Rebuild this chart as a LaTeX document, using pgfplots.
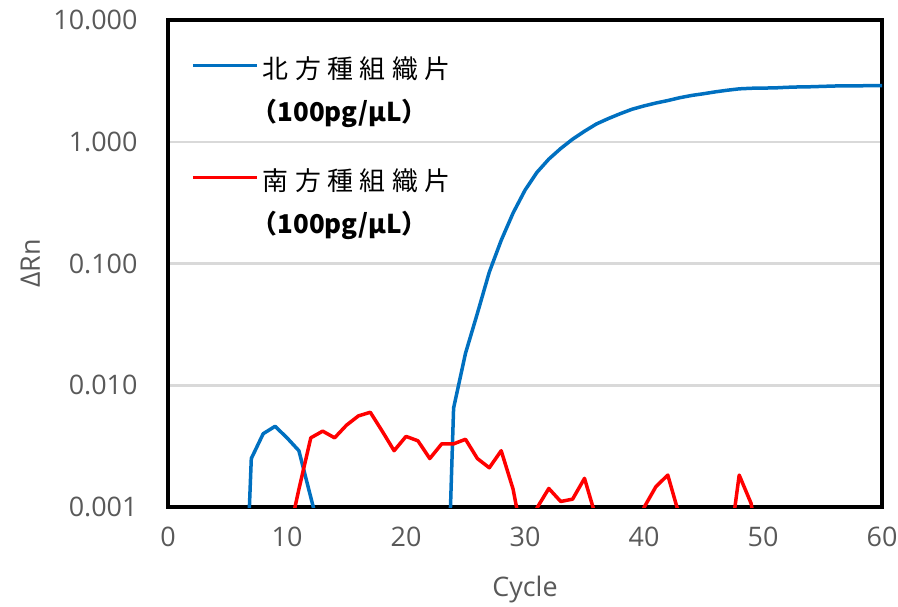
\documentclass[border=0pt]{standalone}
\usepackage{fontspec}
\setmainfont{Open Sans}
\newfontfamily\cjk{Noto Sans CJK JP}
\usepackage{pgfplots}
\pgfplotsset{compat=1.18}
\definecolor{ser1}{HTML}{0070C0}
\definecolor{ser2}{HTML}{FF0000}
\definecolor{gridgray}{HTML}{D9D9D9}
\definecolor{labelgray}{HTML}{595959}
\newcommand\jsp{\hspace{6.5bp}}
\pgfplotstableread{
c b r
1 1e-5 1e-4
2 1e-5 1e-4
3 1e-5 1e-4
4 1e-5 1e-4
5 1e-5 1e-4
6 8e-6 1e-4
7 0.0025 1e-4
8 0.0040 1e-4
9 0.0046 1e-4
10 0.0037 0.0005
11 0.0029 0.0014
12 0.0012 0.0037
13 0.0005 0.0042
14 1e-5 0.0037
15 1e-5 0.0047
16 1e-5 0.0056
17 1e-5 0.0060
18 1e-5 0.0042
19 1e-5 0.0029
20 1e-5 0.0038
21 1e-5 0.0035
22 1e-5 0.0025
23 5e-6 0.0033
24 0.0065 0.0033
25 0.0183 0.0036
26 0.039 0.0025
27 0.085 0.0021
28 0.155 0.0029
29 0.26 0.0014
30 0.40 0.00043
31 0.56 0.00098
32 0.72 0.00142
33 0.88 0.00111
34 1.05 0.00116
35 1.22 0.00172
36 1.40 0.0008
37 1.55 0.0005
38 1.70 0.0005
39 1.85 0.0005
40 1.97 0.00099
41 2.08 0.00147
42 2.18 0.00183
43 2.30 0.00083
44 2.40 0.0003
45 2.48 0.0003
46 2.57 0.0003
47 2.65 0.00034
48 2.72 0.00183
49 2.75 0.00107
50 2.76 0.0003
51 2.77 0.0003
52 2.80 0.0003
53 2.82 0.0003
54 2.83 0.0003
55 2.85 0.0003
56 2.87 0.0003
57 2.88 0.0003
58 2.88 0.0003
59 2.89 0.0003
60 2.89 0.0003
}\datatable
\begin{document}
\begin{tikzpicture}
\useasboundingbox (0,0) rectangle (898bp,607bp);
\begin{axis}[
  at={(168bp,100bp)}, anchor=south west,
  scale only axis, width=714bp, height=487bp,
  xmin=0, xmax=60, ymin=0.001, ymax=10, ymode=log,
  xtick={0,10,...,60},
  ytick={0.001,0.01,0.1,1,10},
  yticklabels={0.001,0.010,0.100,1.000,10.000},
  /pgf/number format/assume math mode=true,
  minor ytick={},
  tick style={draw=none},
  major tick length=0pt, minor tick length=0pt,
  ymajorgrids,
  grid style={line width=2.5bp, color=gridgray},
  axis line style={line width=4.5bp, black},
  ticklabel style={font=\fontsize{27}{32}\selectfont, text=labelgray},
  yticklabel style={xshift=-27bp},
  xticklabel style={yshift=-16bp},
  xlabel={Cycle}, ylabel={ΔRn},
  label style={font=\fontsize{27}{32}\selectfont, text=labelgray},
  xlabel style={at={(axis description cs:0.5,-0.170)}, anchor=center},
  ylabel style={at={(axis description cs:-0.193,0.5)}, anchor=center},
  legend cell align=left,
  legend style={draw=none, fill=none, at={(axis description cs:0.028,0.930)}, anchor=north west,
    font=\cjk\fontsize{26}{32}\selectfont, row sep=67bp, column sep=4bp,
    nodes={inner sep=0pt}},
  legend image code/.code={\path[draw=none,fill=none] (0bp,-13.5bp) rectangle (64bp,13.5bp);
    \draw[#1, line width=3.5bp] (0bp,13.5bp) -- (64bp,13.5bp);},
  every axis plot/.append style={line width=3.5bp, line join=round},
]
\addplot[ser1] table[x=c,y=b] {\datatable};
\addlegendentry{\begin{tabular}{@{}l@{}}北\jsp 方\jsp 種\jsp 組\jsp 織\jsp 片\\[11bp]\hspace{-11bp}{\bfseries （100pg/μL）}\end{tabular}}
\addplot[ser2] table[x=c,y=r] {\datatable};
\addlegendentry{\begin{tabular}{@{}l@{}}南\jsp 方\jsp 種\jsp 組\jsp 織\jsp 片\\[11bp]\hspace{-11bp}{\bfseries （100pg/μL）}\end{tabular}}
\end{axis}
\end{tikzpicture}
\end{document}
